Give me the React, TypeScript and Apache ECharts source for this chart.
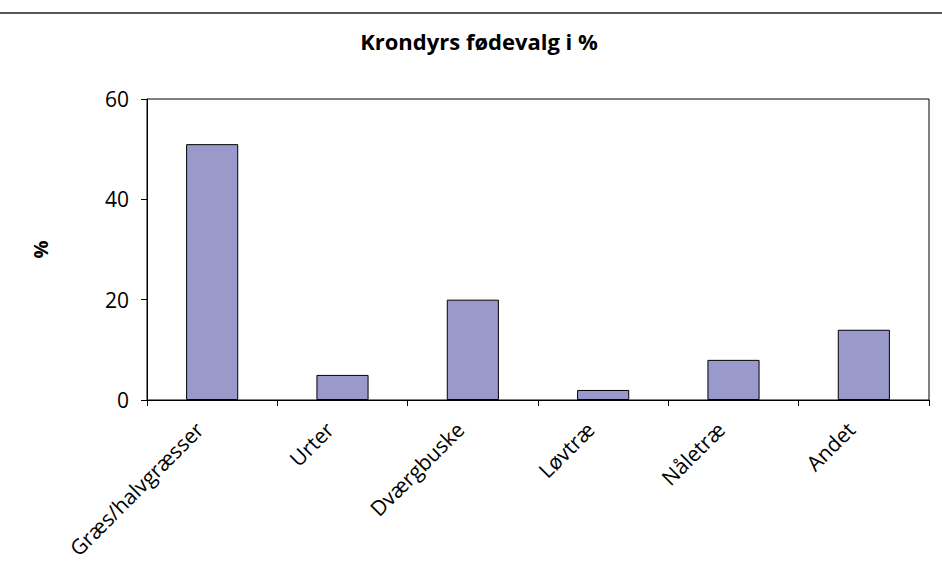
import React, { useEffect, useRef } from "react";
import * as echarts from "echarts";

const categories = ["Græs/halvgræsser", "Urter", "Dværgbuske", "Løvtræ", "Nåletræ", "Andet"];
const values = [51, 5, 20, 2, 8, 14];
const titleText = "Krondyrs fødevalg i %";
const yAxisName = "%";

export default function App() {
  const ref = useRef<HTMLDivElement>(null);
  useEffect(() => {
    if (!ref.current) return;
    const chart = echarts.init(ref.current, null, { renderer: "svg" });
    const font = "'Open Sans', 'Noto Sans', sans-serif";
    chart.setOption({
      animation: false,
      backgroundColor: "#ffffff",
      textStyle: { fontFamily: font },
      title: {
        text: titleText,
        left: 474,
        textAlign: "center",
        top: 25,
        textStyle: { fontFamily: font, fontSize: 22, fontWeight: "bold", color: "#000" },
      },
      graphic: [
        {
          type: "line",
          shape: { x1: 0, y1: 13, x2: 942, y2: 13 },
          style: { stroke: "#222", lineWidth: 1.5 },
        },
      ],
      grid: {
        left: 147,
        right: 13,
        top: 99,
        bottom: 161,
        containLabel: false,
        outerBoundsMode: "none",
        show: true,
        borderColor: "#000",
        borderWidth: 1,
        backgroundColor: "transparent",
      },
      xAxis: {
        type: "category",
        data: categories,
        boundaryGap: true,
        axisLine: { lineStyle: { color: "#000", width: 1 } },
        axisTick: { show: true, inside: false, length: 6, lineStyle: { color: "#000" } },
        axisLabel: {
          rotate: 45,
          interval: 0,
          margin: 13,
          fontSize: 21,
          color: "#000",
          fontFamily: font,
          padding: [0, 18, 0, 0],
        },
      },
      yAxis: {
        type: "value",
        min: 0,
        max: 60,
        interval: 20,
        name: yAxisName,
        nameLocation: "middle",
        nameGap: 97,
        nameRotate: 90,
        nameTextStyle: { fontSize: 20, fontWeight: "bold", color: "#000", fontFamily: font },
        axisLine: { show: true, lineStyle: { color: "#000", width: 1 } },
        axisTick: { show: true, inside: false, length: 6, lineStyle: { color: "#000" } },
        splitLine: { show: false },
        axisLabel: { fontSize: 21, color: "#000", margin: 18, fontFamily: font },
      },
      series: [
        {
          type: "bar",
          data: values,
          barWidth: "40%",
          itemStyle: { color: "#9999CC", borderColor: "#000", borderWidth: 1 },
        },
      ],
    });
    return () => chart.dispose();
  }, []);
  return (
    <div
      ref={ref}
      style={{ position: "fixed", left: 0, top: 0, width: 942, height: 561 }}
    />
  );
}
